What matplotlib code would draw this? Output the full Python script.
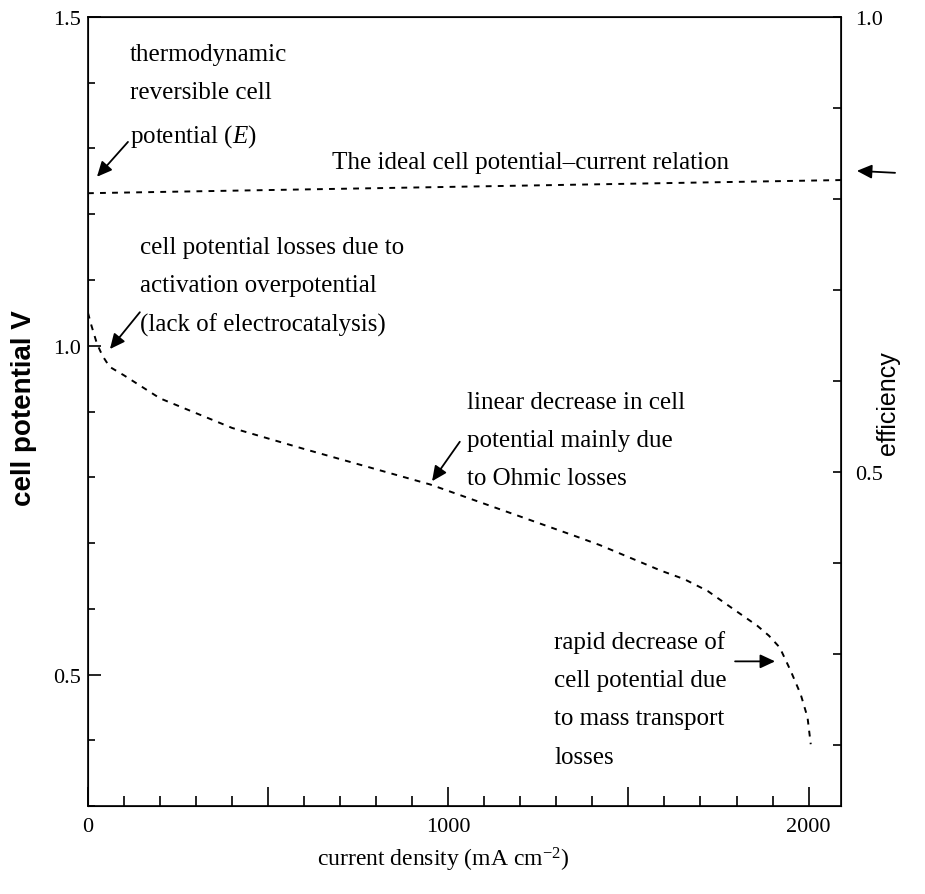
import matplotlib
matplotlib.use('Agg')
import matplotlib.pyplot as plt
from matplotlib.ticker import MultipleLocator, FixedLocator, FuncFormatter

plt.rcParams['font.family'] = 'Liberation Serif'
plt.rcParams['mathtext.fontset'] = 'custom'
plt.rcParams['mathtext.rm'] = 'Liberation Serif'
plt.rcParams['mathtext.it'] = 'Liberation Serif:italic'

# values
current_density = [0, 10, 25, 40, 60, 100, 200, 400, 600, 950, 1350, 1420,
                   1590, 1655, 1720, 1790, 1858, 1890, 1920, 1950, 1978, 1997,
                   2006]
cell_potential = [1.05, 1.03, 1.003, 0.985, 0.968, 0.955, 0.920, 0.875, 0.843,
                  0.789, 0.711, 0.697, 0.658, 0.645, 0.627, 0.600, 0.574,
                  0.559, 0.541, 0.506, 0.470, 0.435, 0.394]
ideal_cd = [0, 2090]
ideal_potential = [1.232, 1.252]

x_ticks = [0, 1000, 2000]
y_ticks = [0.5, 1.0, 1.5]
eff_ticks = [0.5, 1.0]

fig = plt.figure(figsize=(9.25, 8.95), dpi=100)
ax = fig.add_axes([0.0951, 0.0983, 0.8141, 0.8816])

ax.plot(current_density, cell_potential, color='k', lw=1.4, ls=(0, (3, 3.2)))
ax.plot(ideal_cd, ideal_potential, color='k', lw=1.4, ls=(0, (3, 3.2)))

ax.set_xlim(0, 2090)
ax.set_ylim(0.3, 1.5)
ax.xaxis.set_major_locator(MultipleLocator(500))
ax.xaxis.set_minor_locator(MultipleLocator(100))
ax.xaxis.set_major_formatter(
    FuncFormatter(lambda v, p: '%d' % v if round(v) in x_ticks else ''))
ax.yaxis.set_major_locator(FixedLocator(y_ticks))
ax.yaxis.set_minor_locator(MultipleLocator(0.1))
ax.set_yticklabels(['%.1f' % t for t in y_ticks])
ax.tick_params(which='both', direction='in', width=1.2, top=False, right=False,
               labelsize=16)
ax.tick_params(axis='x', which='major', length=14, pad=8)
ax.tick_params(axis='x', which='minor', length=7)
ax.tick_params(axis='y', which='major', length=9.5, pad=5)
ax.tick_params(axis='y', which='minor', length=5)
for s in ax.spines.values():
    s.set_linewidth(1.2)

ax2 = ax.twinx()
ax2.set_ylim(0.1335, 1.0)
ax2.yaxis.set_major_locator(FixedLocator(eff_ticks))
ax2.yaxis.set_minor_locator(MultipleLocator(0.1))
ax2.set_yticklabels(['%.1f' % t for t in eff_ticks])
ax2.tick_params(which='both', direction='in', width=1.2, length=5.5,
                labelsize=16, pad=10)

ax.set_xlabel('current density (mA cm$^{-2}$)', fontsize=17)
ax.xaxis.set_label_coords(0.471, -0.049)
ax.set_ylabel('cell potential V', fontsize=20, family='Liberation Sans',
              fontweight='bold')
ax.yaxis.set_label_coords(-0.068, 0.506)
ax2.set_ylabel('efficiency', fontsize=18, family='Liberation Sans')
ax2.yaxis.set_label_coords(1.046, 0.512)

fs = 18
ls = 1.95
ax.text(117, 1.38, 'thermodynamic\nreversible cell\npotential ($E$)',
        fontsize=fs, linespacing=ls, va='center', ha='left')
ax.text(1227, 1.279, 'The ideal cell potential\u2013current relation',
        fontsize=fs, va='center', ha='center')
ax.text(144, 1.091, 'cell potential losses due to\nactivation overpotential\n'
        '(lack of electrocatalysis)', fontsize=fs, linespacing=ls,
        va='center', ha='left')
ax.text(1052, 0.857, 'linear decrease in cell\npotential mainly due\n'
        'to Ohmic losses', fontsize=fs, linespacing=ls, va='center', ha='left')
ax.text(1773, 0.463, 'rapid decrease of\ncell potential due\n'
        'to mass transport\nlosses', fontsize=fs, linespacing=ls,
        va='center', ha='right', multialignment='left')

arrow = dict(arrowstyle='-|>,head_length=0.6,head_width=0.28', color='k',
             lw=1.3, mutation_scale=15, shrinkA=0, shrinkB=0)
ax.annotate('', xy=(25, 1.257), xytext=(111, 1.310), arrowprops=arrow)
ax.annotate('', xy=(61, 0.995), xytext=(144, 1.051), arrowprops=arrow)
ax.annotate('', xy=(955, 0.794), xytext=(1032, 0.854), arrowprops=arrow)
ax.annotate('', xy=(1907, 0.520), xytext=(1796, 0.520), arrowprops=arrow)
ax.annotate('', xy=(2134, 1.266), xytext=(2240, 1.263), arrowprops=arrow,
            annotation_clip=False)

fig.savefig('out.png', dpi=100)
